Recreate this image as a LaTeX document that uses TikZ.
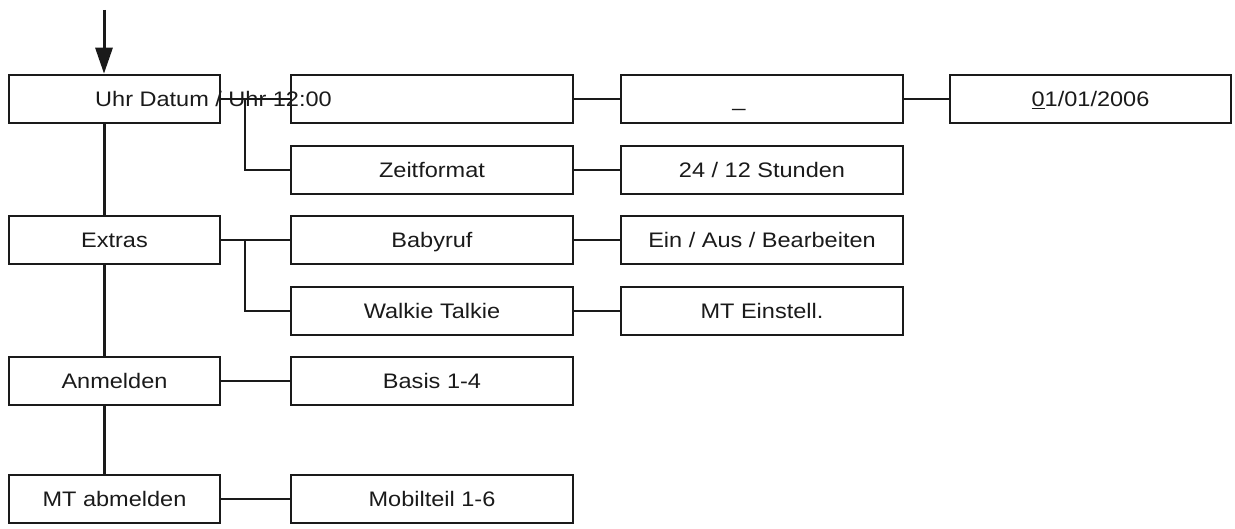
\documentclass[tikz,border=0pt]{standalone}
\usepackage{fontspec}
\setmainfont{Liberation Sans}[FakeStretch=1.12]
\usetikzlibrary{arrows.meta}
\definecolor{ink}{HTML}{1A1A1A}
\tikzset{
  menubox/.style={draw=ink, line width=2.6pt, minimum height=48pt, inner sep=0pt,
    font=\fontsize{21}{24}\selectfont, text=ink, text height=15pt, text depth=0pt},
  colA/.style={menubox, minimum width=211pt},
  colB/.style={menubox, minimum width=282pt},
  conn/.style={draw=ink, line width=2.2pt},
  mainline/.style={draw=ink, line width=3pt},
  lbl/.style={font=\fontsize{21}{24}\selectfont, text=ink, inner sep=0pt}
}
\begin{document}
\begin{tikzpicture}[x=1pt,y=-1pt]
\useasboundingbox (0,0) rectangle (1235,529);
% column 1
\node[colA] (uhr) at (114.5,99) {};
\node[lbl, anchor=base west] (uhrtxt) at (95,106.5) {Uhr Datum / Uhr 12:00};
\node[colA] (extras) at (114.5,240) {Extras};
\node[colA] (anm) at (114.5,381) {Anmelden};
\node[colA] (abm) at (114.5,499) {MT abmelden};
% column 2
\node[colB] (b1) at (432,99) {};
\node[colB] (zeit) at (432,170) {Zeitformat};
\node[colB] (baby) at (432,240) {Babyruf};
\node[colB] (walkie) at (432,311) {Walkie Talkie};
\node[colB] (basis) at (432,381) {Basis 1-4};
\node[colB] (mobil) at (432,499) {Mobilteil 1-6};
% column 3
\node[colB] (c1) at (762,99) {};
\node[lbl, anchor=base] (cur) at (739,106.5) {\_};
\node[colB] (stunden) at (762,170) {24 / 12 Stunden};
\node[colB] (ein) at (762,240) {Ein / Aus / Bearbeiten};
\node[colB] (mtein) at (762,311) {MT Einstell.};
% column 4
\node[colB, minimum width=281pt] (datum) at (1090.5,99) {\underline{0}1/01/2006};
% entry arrow
\coordinate (start) at (104,10);
\draw[mainline, -{Triangle[length=26pt,width=17pt]}] (start) -- (start |- uhr.north);
% main vertical
\draw[mainline] (uhr.south -| start) -- (extras.north -| start);
\draw[mainline] (extras.south -| start) -- (anm.north -| start);
\draw[mainline] (anm.south -| start) -- (abm.north -| start);
% branches
\coordinate (br1) at (245,99);
\draw[conn] (uhr.east) -- (b1.west);
\draw[conn] (br1) |- (zeit.west);
\coordinate (br2) at (245,240);
\draw[conn] (extras.east) -- (baby.west);
\draw[conn] (br2) |- (walkie.west);
\draw[conn] (anm.east) -- (basis.west);
\draw[conn] (abm.east) -- (mobil.west);
\draw[conn] (b1.east) -- (c1.west);
\draw[conn] (zeit.east) -- (stunden.west);
\draw[conn] (baby.east) -- (ein.west);
\draw[conn] (walkie.east) -- (mtein.west);
\draw[conn] (c1.east) -- (datum.west);
\end{tikzpicture}
\end{document}
